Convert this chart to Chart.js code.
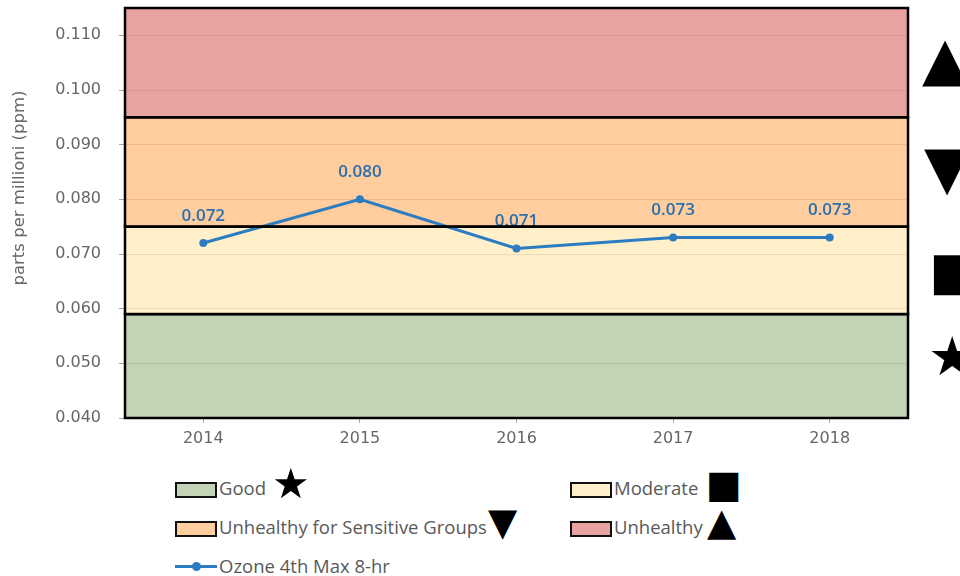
<!DOCTYPE html>
<html>
<head>
<meta charset="utf-8">
<script src="https://cdn.jsdelivr.net/npm/chart.js@4"></script>
<style>
    html, body { margin: 0; padding: 0; background: #fff; }
    body { width: 960px; height: 576px; overflow: hidden; position: relative; font-family: "Open Sans", sans-serif; }
    #chartBox { position: absolute; left: 0; top: 0; width: 960px; height: 460px; }
    .leg { position: absolute; color: #595959; font-size: 18.5px; line-height: 22px; white-space: nowrap; }
    .leg .box { position: absolute; width: 38px; height: 12px; border: 2px solid #111; }
    .leg .txt { position: absolute; }
    .sym { position: absolute; color: #000; font-family: "DejaVu Sans", sans-serif; line-height: 1; }
</style>
</head>
<body>
<div id="chartBox"><canvas id="ozoneChart" width="960" height="460"></canvas></div>
<div id="legend"></div>
<div id="sideSymbols"></div>
<script>
// Данные графика
const years = ['2014', '2015', '2016', '2017', '2018'];
const ozoneValues = [0.072, 0.080, 0.071, 0.073, 0.073];
const yTicks = [0.040, 0.050, 0.060, 0.070, 0.080, 0.090, 0.100, 0.110];
const yTitle = 'parts per millioni (ppm)';

// Зоны качества воздуха
const bandNames = ['Good', 'Moderate', 'Unhealthy for Sensitive Groups', 'Unhealthy'];
const bandLow = [0.040, 0.059, 0.075, 0.095];
const bandHigh = [0.059, 0.075, 0.095, 0.115];
const bandColors = ['#C3D3B6', '#FFF0CA', '#FFCD9E', '#E8A2A2'];
const bandSymbols = ['\u2605', '\u25A0', '\u25BC', '\u25B2'];

const lineColor = '#2B7CC0';
const labelColor = '#2A6FAE';
const textGray = '#666666';

// Плагин: заливка зон под сеткой, рамки зон поверх всего, подпись оси Y
const bandsPlugin = {
    id: 'bands',
    beforeDraw(chart) {
        const { ctx, chartArea, scales } = chart;
        ctx.save();
        bandLow.forEach((low, i) => {
            const top = scales.y.getPixelForValue(bandHigh[i]);
            const bottom = scales.y.getPixelForValue(low);
            ctx.fillStyle = bandColors[i];
            ctx.fillRect(chartArea.left, top, chartArea.right - chartArea.left, bottom - top);
        });
        ctx.restore();
    },
    afterDraw(chart) {
        const { ctx, chartArea, scales } = chart;
        ctx.save();
        ctx.strokeStyle = '#000';
        ctx.lineWidth = 2.5;
        bandLow.forEach((low, i) => {
            const top = scales.y.getPixelForValue(bandHigh[i]);
            const bottom = scales.y.getPixelForValue(low);
            ctx.strokeRect(chartArea.left, top, chartArea.right - chartArea.left, bottom - top);
        });
        // подпись оси
        ctx.translate(20, 188);
        ctx.rotate(-Math.PI / 2);
        ctx.fillStyle = textGray;
        ctx.font = '16.5px "DejaVu Sans"';
        ctx.textAlign = 'center';
        ctx.textBaseline = 'middle';
        ctx.fillText(yTitle, 0, 0);
        ctx.restore();
    }
};

// Плагин: подписи значений над точками
const valueLabels = {
    id: 'valueLabels',
    afterDatasetsDraw(chart) {
        const { ctx } = chart;
        const meta = chart.getDatasetMeta(0);
        ctx.save();
        ctx.fillStyle = labelColor;
        ctx.font = '600 17px "Open Sans"';
        ctx.textAlign = 'center';
        ctx.textBaseline = 'middle';
        meta.data.forEach((pt, i) => {
            ctx.fillText(ozoneValues[i].toFixed(3), pt.x, pt.y - 27);
        });
        ctx.restore();
    }
};

new Chart(document.getElementById('ozoneChart'), {
    type: 'line',
    data: {
        labels: years,
        datasets: [{
            label: 'Ozone 4th Max 8-hr',
            data: ozoneValues,
            borderColor: lineColor,
            backgroundColor: lineColor,
            borderWidth: 3,
            pointRadius: 4,
            pointBorderWidth: 0,
            tension: 0
        }]
    },
    options: {
        responsive: false,
        animation: false,
        layout: { padding: { top: 8, right: 52, bottom: 0, left: 0 } },
        plugins: {
            legend: { display: false },
            tooltip: { enabled: false }
        },
        scales: {
            x: {
                offset: true,
                grid: {
                    offset: false,
                    drawOnChartArea: false,
                    tickLength: 5,
                    tickColor: '#a6a6a6'
                },
                border: { color: '#a6a6a6' },
                ticks: {
                    color: textGray,
                    font: { family: 'DejaVu Sans', size: 16 },
                    padding: 6
                },
                afterFit(scale) {
                    scale.height = 42;
                    scale.paddingLeft = 0;
                    scale.paddingRight = 0;
                }
            },
            y: {
                min: 0.040,
                max: 0.115,
                afterBuildTicks(scale) {
                    scale.ticks = yTicks.map(v => ({ value: v }));
                },
                grid: {
                    color: 'rgba(0,0,0,0.08)',
                    tickColor: '#a6a6a6',
                    tickLength: 6
                },
                border: { color: '#a6a6a6' },
                ticks: {
                    color: textGray,
                    font: { family: 'DejaVu Sans', size: 16 },
                    padding: 18,
                    callback: v => Number(v).toFixed(3)
                },
                afterFit(scale) {
                    scale.width = 125;
                    scale.paddingTop = 0;
                    scale.paddingBottom = 0;
                }
            }
        }
    },
    plugins: [bandsPlugin, valueLabels]
});

// Легенда (HTML)
const legendEl = document.getElementById('legend');
const legendPos = [
    { x: 175, y: 477, sx: 272, sy: 463, size: 42 },
    { x: 570, y: 477, sx: 706, sy: 465, size: 38 },
    { x: 175, y: 516, sx: 488, sy: 503, size: 38 },
    { x: 570, y: 516, sx: 707, sy: 503, size: 38 }
];
bandNames.forEach((name, i) => {
    const p = legendPos[i];
    const item = document.createElement('div');
    item.className = 'leg';
    item.style.left = p.x + 'px';
    item.style.top = p.y + 'px';
    item.innerHTML = '<span class="box" style="left:0;top:5px;background:' + bandColors[i] + '"></span>' +
        '<span class="txt" style="left:44px;top:0">' + name + '</span>';
    legendEl.appendChild(item);
    const s = document.createElement('span');
    s.className = 'sym';
    s.textContent = bandSymbols[i];
    s.style.left = p.sx + 'px';
    s.style.top = p.sy + 'px';
    s.style.fontSize = p.size + 'px';
    document.body.appendChild(s);
});
const ozoneItem = document.createElement('div');
ozoneItem.className = 'leg';
ozoneItem.style.left = '175px';
ozoneItem.style.top = '555px';
ozoneItem.innerHTML = '<span style="position:absolute;left:0;top:10px;width:42px;height:3px;background:' + lineColor + '"></span>' +
    '<span style="position:absolute;left:17px;top:7px;width:9px;height:9px;border-radius:50%;background:' + lineColor + '"></span>' +
    '<span class="txt" style="left:44px;top:0">Ozone 4th Max 8-hr</span>';
legendEl.appendChild(ozoneItem);

// Большие символы справа от графика
const sidePos = [
    { sym: bandSymbols[3], y: 28, x: 922, size: 60 },
    { sym: bandSymbols[2], y: 137, x: 924, size: 60 },
    { sym: bandSymbols[1], y: 245, x: 929, size: 52 },
    { sym: bandSymbols[0], y: 330, x: 928, size: 54 }
];
sidePos.forEach(p => {
    const s = document.createElement('span');
    s.className = 'sym';
    s.textContent = p.sym;
    s.style.left = p.x + 'px';
    s.style.top = p.y + 'px';
    s.style.fontSize = p.size + 'px';
    document.getElementById('sideSymbols').appendChild(s);
});
</script>
</body>
</html>
